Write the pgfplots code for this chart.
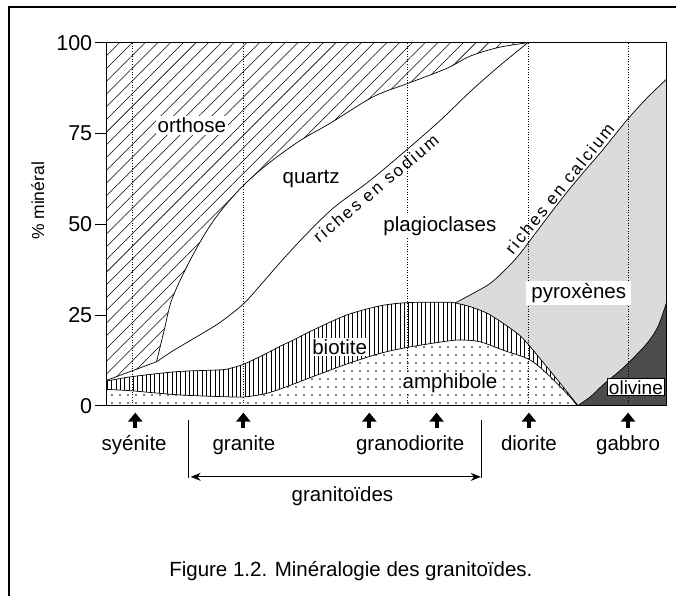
\documentclass[border=0pt]{standalone}
\usepackage{fontspec}
\setmainfont{Liberation Sans}
\usepackage{pgfplots}
\usepackage{pgfplotstable}
\pgfplotsset{compat=1.18}
\usepgfplotslibrary{fillbetween}
\usetikzlibrary{patterns.meta,arrows.meta}

\newcommand{\lab}{\fontsize{20.5}{24}\selectfont}
\newcommand{\rlab}{\fontsize{17}{20}\selectfont\addfontfeatures{LetterSpace=13}}

% amphibole top
\pgfplotstableread{
x y
0 4.5
4.5 4.1
12.7 3.0
20.5 2.5
24.4 2.4
28 3.2
31 4.6
36.8 8.0
42.9 11.5
48.8 14.4
53.8 16.1
60.8 17.8
63.5 18.1
66.7 17.6
70.8 15.3
75.6 12.6
79.2 8.0
82.7 2.5
84.0 0
}\Atab
% biotite top
\pgfplotstableread{
x y
0 6.8
4.5 8.0
12.7 9.4
20.5 9.9
22.5 10.5
24.4 11.4
28 14.0
31 16.4
33.6 18.3
36.8 20.8
42.9 25.0
48.8 27.5
53.8 28.4
60.8 28.5
62.2 28.3
64.9 27.3
67.9 25.5
70.8 22.7
73.8 19.3
75.6 16.3
78.6 10.7
81.5 5.2
83.6 1.1
84.2 0
}\Btab
% olivine top
\pgfplotstableread{
x y
84.1 0
86.5 2.6
88.6 5.7
91 8.8
93.1 11.7
96.5 17.2
98.5 22
100 28.6
}\Otab
% plagioclases riches en calcium / pyroxenes
\pgfplotstableread{
x y
62.2 28.3
64.9 30.5
68.4 33.6
71 37.2
73.5 41.3
76.8 48.0
80 54.5
82.7 59.8
85.7 65.3
88.6 70.5
92.9 78.7
96.5 84.8
100 90
}\Ctab
% plagioclases riches en sodium / quartz
\pgfplotstableread{
x y
8.9 12.1
11.5 14.8
14.3 17.4
17.5 20.3
20.3 23.0
24.4 28.0
27.5 33.3
31.3 40.0
35.5 47.0
40.5 54.5
47 62.0
53.8 70.8
59.5 78.5
64.9 86.5
70.2 93.7
75.2 100
}\Stab
% quartz / orthose
\pgfplotstableread{
x y
8.9 12.1
10.3 21
11.6 29.1
14.3 38.3
17.6 47.5
20.5 53.9
24.1 60.2
27.5 65.0
30.9 69.1
35 73.5
39.9 77.8
47.6 85.1
53.8 88.8
60.7 92.9
64.9 96.3
70 98.7
75.2 100
}\Qtab

\begin{document}
\begin{tikzpicture}
\begin{axis}[
  at={(0,0)}, anchor=south west,
  scale only axis, width=560pt, height=363pt,
  xmin=0, xmax=100, ymin=0, ymax=100,
  xtick=\empty, ytick={0,25,50,75,100}, ytick pos=left,
  tick align=outside, major tick length=12pt,
  ytick style={line width=0.8pt, black},
  axis line style={line width=0.8pt},
  /pgf/number format/assume math mode=true,
  yticklabel style={font=\fontsize{21.5}{25}\selectfont, xshift=1pt},
  clip=false, axis on top,
]
% ---- boundary paths
\addplot[name path=T, draw=none] coordinates {(0,7.0) (0,100) (75.2,100)};
\addplot[name path=Q, smooth, tension=0.55, draw=none] table {\Qtab};
\addplot[name path=C, smooth, draw=none] table {\Ctab};
\addplot[name path=Z2, draw=none] coordinates {(62.2,0) (100,0)};
\addplot[name path=O, smooth, draw=none] table {\Otab};
\addplot[name path=Z3, draw=none] coordinates {(84.1,0) (100,0)};
\addplot[name path=B, smooth, draw=none] table {\Btab};
\addplot[name path=A, smooth, draw=none] table {\Atab};
\addplot[name path=Z, draw=none] coordinates {(0,0) (84,0)};
% ---- areas
\addplot[pattern={Lines[angle=45,distance=9pt,line width=0.55pt]}, draw=none] fill between[of=Q and T];
\addplot[fill=black!14, draw=none] fill between[of=C and Z2];
\addplot[fill=black!70, draw=none] fill between[of=O and Z3];
\addplot[fill=white, draw=none] fill between[of=B and A];
\addplot[pattern={Lines[angle=90,distance=4.3pt,line width=0.8pt]}, draw=none] fill between[of=B and A];
\addplot[fill=white, draw=none] fill between[of=A and Z];
\addplot[pattern={Dots[distance=8pt,radius=0.85pt]}, draw=none] fill between[of=A and Z];
% ---- lines
\addplot[black, line width=0.7pt] coordinates {(0,7.0) (8.9,12.1)};
\addplot[black, line width=0.7pt, smooth, tension=0.55] table {\Qtab};
\addplot[black, line width=0.7pt, smooth] table {\Stab};
\addplot[black, line width=0.7pt, smooth] table {\Btab};
\addplot[black, line width=0.7pt, smooth] table {\Atab};
\addplot[black, line width=0.7pt, smooth] table {\Ctab};
\addplot[black, line width=0.7pt, smooth] table {\Otab};
% ---- dotted rock lines
\addplot[black, line width=1pt, dash pattern=on 1pt off 1.6pt] coordinates {(4.6,0) (4.6,100)};
\addplot[black, line width=1pt, dash pattern=on 1pt off 1.6pt] coordinates {(24.4,0) (24.4,100)};
\addplot[black, line width=1pt, dash pattern=on 1pt off 1.6pt] coordinates {(53.8,0) (53.8,100)};
\addplot[black, line width=1pt, dash pattern=on 1pt off 1.6pt] coordinates {(75.4,0) (75.4,100)};
\addplot[black, line width=1pt, dash pattern=on 1pt off 1.6pt] coordinates {(93.1,0) (93.1,100)};
% ---- area labels
\node[anchor=base, font=\lab, fill=white, inner sep=2pt] at (axis cs:15.2,75.3) {orthose};
\node[anchor=base, font=\lab, inner sep=2pt] at (axis cs:36.5,61.3) {quartz};
\node[anchor=base, font=\lab, fill=white, inner sep=2pt] at (axis cs:59.5,47.9) {plagioclases};
\node[anchor=base, font=\lab, fill=white, inner sep=1.5pt] at (axis cs:41.6,14.2) {biotite};
\node[anchor=base, font=\lab, fill=white, inner sep=1.5pt] at (axis cs:61.3,4.8) {amphibole};
\node[anchor=base, font=\lab, fill=white, inner xsep=5pt, inner ysep=2pt] at (axis cs:84.3,29.6) {pyroxènes};
\node[anchor=base, font=\fontsize{19}{22}\selectfont, fill=white, draw=black, line width=0.8pt, inner sep=1.5pt] at (axis cs:94.5,3.2) {olivine};
\node[anchor=north, rotate=40, font=\rlab, inner sep=1pt] at (axis cs:47.2,61.4) {riches en sodium};
\node[anchor=south, rotate=51, font=\rlab, inner sep=1pt] at (axis cs:81.9,58.5) {riches en calcium};
% ---- y label
\node[rotate=90, font=\fontsize{17.5}{21}\selectfont] at (axis cs:-12.3,56.4) {\% minéral};
% ---- rock arrows and names
\draw[-{Triangle[length=9pt,width=14pt]}, line width=4pt] (axis cs:5.1,-6.1) -- (axis cs:5.1,-1.9);
\draw[-{Triangle[length=9pt,width=14pt]}, line width=4pt] (axis cs:24.4,-6.1) -- (axis cs:24.4,-1.9);
\draw[-{Triangle[length=9pt,width=14pt]}, line width=4pt] (axis cs:46.9,-6.1) -- (axis cs:46.9,-1.9);
\draw[-{Triangle[length=9pt,width=14pt]}, line width=4pt] (axis cs:58.9,-6.1) -- (axis cs:58.9,-1.9);
\draw[-{Triangle[length=9pt,width=14pt]}, line width=4pt] (axis cs:75.4,-6.1) -- (axis cs:75.4,-1.9);
\draw[-{Triangle[length=9pt,width=14pt]}, line width=4pt] (axis cs:93.1,-6.1) -- (axis cs:93.1,-1.9);
\node[anchor=base, font=\lab] at (axis cs:4.9,-12.3) {syénite};
\node[anchor=base, font=\lab] at (axis cs:24.5,-12.3) {granite};
\node[anchor=base, font=\lab] at (axis cs:54.2,-12.3) {granodiorite};
\node[anchor=base, font=\lab] at (axis cs:75.4,-12.3) {diorite};
\node[anchor=base, font=\lab] at (axis cs:93.1,-12.3) {gabbro};
% ---- granitoides bracket
\draw[line width=1pt] (axis cs:14.6,-3.9) -- (axis cs:14.6,-20.0);
\draw[line width=1pt] (axis cs:67.0,-3.9) -- (axis cs:67.0,-20.0);
\draw[{Stealth[length=10pt,width=8pt]}-{Stealth[length=10pt,width=8pt]}, line width=1.2pt] (axis cs:15.0,-19.6) -- (axis cs:66.8,-19.6);
\node[anchor=base, font=\lab] at (axis cs:42.1,-26.4) {granitoïdes};
% ---- caption
\node[anchor=base, font=\lab] at (axis cs:43.6,-47.1) {Figure 1.2. Minéralogie des granitoïdes.};
% ---- frame
\draw[line width=1.6pt] (axis cs:-17.45,-56) -- (axis cs:-17.45,109.8) -- (axis cs:101.7,109.8);
\end{axis}
\pgfresetboundingbox
\path[use as bounding box] (-106.7pt,-189.3pt) rectangle (575.3pt,405.7pt);
\end{tikzpicture}
\end{document}
